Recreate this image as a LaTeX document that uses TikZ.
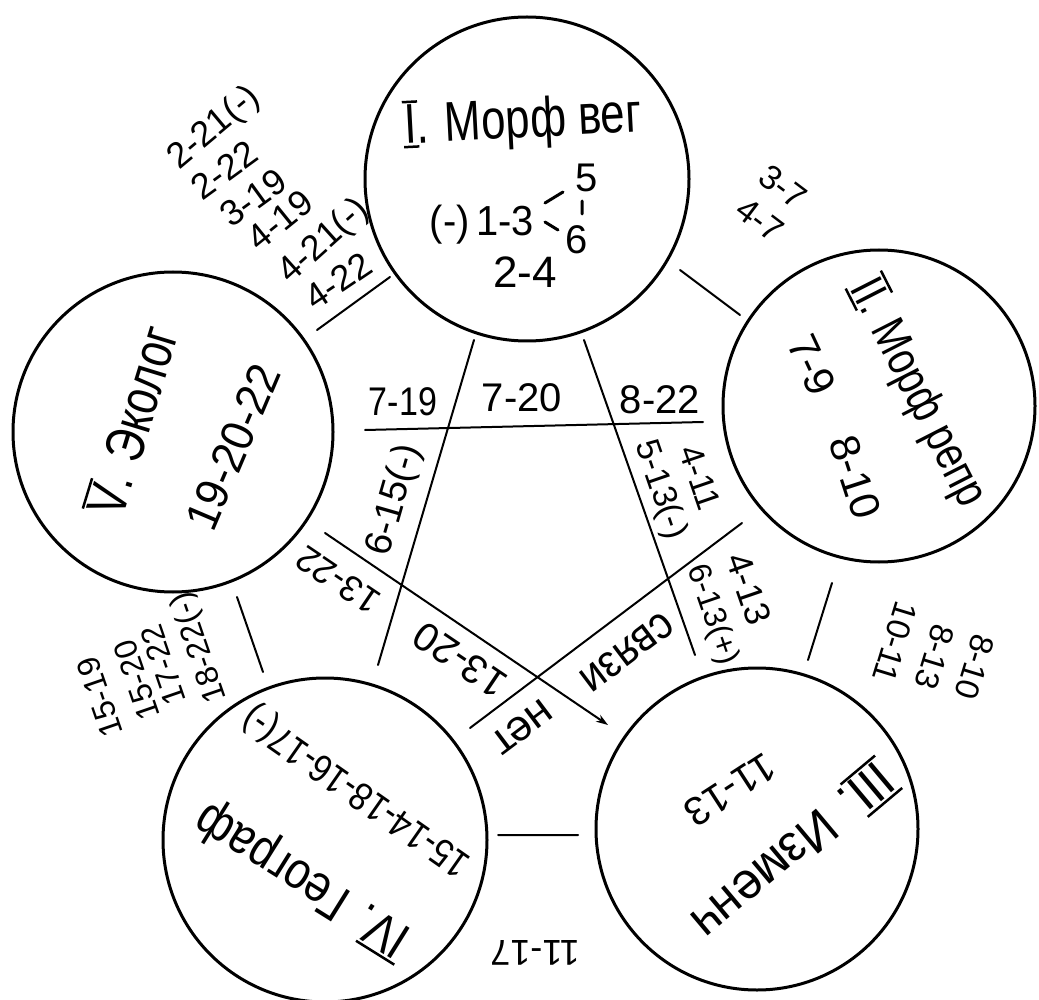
\documentclass[tikz,border=0pt]{standalone}
\usepackage{fontspec}
\setmainfont{Liberation Sans}
\usetikzlibrary{arrows.meta}
\newcommand\tx[3]{\scalebox{#2}[1]{\fontsize{#1pt}{#1pt}\selectfont #3}}
\newcommand\RomBoth[1]{\setbox0\hbox{#1}\rlap{\kern-2pt\raisebox{\dimexpr\ht0+2pt\relax}{\rule{\dimexpr\wd0+4pt\relax}{2.5pt}}}\rlap{\kern-2pt\raisebox{-4.5pt}{\rule{\dimexpr\wd0+4pt\relax}{2.5pt}}}\box0}
\newcommand\RomTop[1]{\setbox0\hbox{#1}\rlap{\kern-2pt\raisebox{\dimexpr\ht0+2pt\relax}{\rule{\dimexpr\wd0+4pt\relax}{2.5pt}}}\box0}
\begin{document}
\begin{tikzpicture}[x=1pt,y=-1pt,
  circ/.style={circle,draw,line width=3pt,inner sep=0pt},
  lbl/.style={inner sep=0pt,anchor=center},
  lblw/.style={inner sep=0pt,anchor=west},
  conn/.style={line width=2pt,line cap=round}]
\useasboundingbox[fill=white] (0,0) rectangle (1039,1000);
% circles
\node[circ,minimum size=324pt] (I) at (527,179) {};
\node[circ,minimum size=312pt] (II) at (879,406) {};
\node[circ,minimum size=322pt] (III) at (757,829) {};
\node[circ,minimum size=324pt] (IV) at (325,840) {};
\node[circ,minimum size=320pt] (V) at (173,432) {};
% circle texts
\node[lbl,rotate=3] (tI) at (523,122) {\tx{56}{0.78}{\RomBoth{I}. Морф вег}};
\node[lbl] (n13) at (482,225) {\tx{42}{0.95}{(-)\,1-3}};
\node[lbl] (n5) at (587,178) {\tx{40}{1}{5}};
\node[lbl] (n6) at (577,240) {\tx{40}{1}{6}};
\node[lbl] (n24) at (525,272) {\tx{44}{1}{2-4}};
\coordinate (a1) at (545,203); \coordinate (a2) at (563,192);
\coordinate (b1) at (545,222); \coordinate (b2) at (558,230);
\coordinate (c1) at (582,201); \coordinate (c2) at (582,214);
\draw[line width=3pt,line cap=round] (a1)--(a2) (b1)--(b2) (c1)--(c2);
\node[lbl,rotate=-63] (tII) at (918,393) {\tx{48}{0.8}{\RomBoth{II}. Морф репр}};
\node[lbl,rotate=-65] (n79) at (812,365) {\tx{42}{1}{7-9}};
\node[lbl,rotate=-72] (n810) at (855,477) {\tx{42}{1}{8-10}};
\node[lbl,rotate=220] (tIII) at (793,852) {\tx{52}{0.95}{\RomBoth{III}. Изменч}};
\node[lbl,rotate=213] (n1113) at (730,790) {\tx{40}{1}{11-13}};
\node[lbl,rotate=148] (tIV) at (303,879) {\tx{52}{0.85}{\RomTop{IV}. Географ}};
\node[lbl,rotate=145] (nIV) at (357,790) {\tx{39}{0.87}{15-14-18-16-17(-)}};
\node[lbl,rotate=73] (tV) at (131,420) {\tx{55}{0.78}{\RomTop{V}. Эколог}};
\node[lbl,rotate=67] (nV) at (233,447) {\tx{46}{0.95}{19-20-22}};
% outer connectors
\coordinate (p1) at (680,270); \coordinate (p2) at (740,315);
\coordinate (q1) at (832,583); \coordinate (q2) at (808,660);
\coordinate (r1) at (578,835); \coordinate (r2) at (498,835);
\coordinate (s1) at (263,672); \coordinate (s2) at (237,597);
\coordinate (t1) at (317,330); \coordinate (t2) at (390,277);
\draw[conn] (p1)--(p2) (q1)--(q2) (r1)--(r2) (s1)--(s2) (t1)--(t2);
% inner connectors
\coordinate (h1) at (365,430); \coordinate (h2) at (703,422);
\coordinate (l1) at (474,340); \coordinate (l2) at (378,665);
\coordinate (m1) at (584,340); \coordinate (m2) at (695,655);
\coordinate (k1) at (470,728); \coordinate (k2) at (742,523);
\coordinate (w1) at (325,533); \coordinate (w2) at (608,725);
\draw[conn] (h1)--(h2) (l1)--(l2) (m1)--(m2) (k1)--(k2);
\draw[conn,-{Stealth[length=12pt,width=8pt]}] (w1)--(w2);
% edge labels: V-I
\node[lblw,rotate=40] (e1) at (173,163) {\tx{36}{1}{2-21(-)}};
\node[lblw,rotate=36] (e2) at (195,191) {\tx{36}{1}{2-22}};
\node[lblw,rotate=36] (e3) at (224,219) {\tx{36}{1}{3-19}};
\node[lblw,rotate=39] (e4) at (252,243) {\tx{36}{1}{4-19}};
\node[lblw,rotate=42] (e5) at (284,278) {\tx{36}{1}{4-21(-)}};
\node[lblw,rotate=34] (e6) at (308,301) {\tx{36}{1}{4-22}};
% I-II
\node[lbl,rotate=-37] (f1) at (783,187) {\tx{34}{1}{3-7}};
\node[lbl,rotate=-37] (f2) at (760,220) {\tx{34}{1}{4-7}};
% II-III
\node[lbl,rotate=-107] (g1) at (975,667) {\tx{33}{1}{8-10}};
\node[lbl,rotate=-107] (g2) at (935,657) {\tx{33}{1}{8-13}};
\node[lbl,rotate=-107] (g3) at (895,642) {\tx{33}{1}{10-11}};
% III-IV
\node[lbl,rotate=180] (j1) at (535,953) {\tx{36}{1}{11-17}};
% IV-V
\node[lbl,rotate=109] (i1) at (100,697) {\tx{32}{1}{15-19}};
\node[lbl,rotate=109] (i2) at (137,680) {\tx{32}{1}{15-20}};
\node[lbl,rotate=109] (i3) at (163,665) {\tx{32}{1}{17-22}};
\node[lbl,rotate=109] (i4) at (200,647) {\tx{32}{1}{18-22(-)}};
% inner labels
\node[lbl] (u1) at (403,402) {\tx{40}{0.85}{7-19}};
\node[lbl] (u2) at (522,398) {\tx{40}{1}{7-20}};
\node[lbl] (u3) at (660,400) {\tx{40}{1}{8-22}};
\node[lbl,rotate=74] (u4) at (395,500) {\tx{38}{1}{6-15(-)}};
\node[lbl,rotate=146] (u5) at (338,580) {\tx{36}{1}{13-22}};
\node[lbl,rotate=146] (u6) at (460,660) {\tx{40}{1}{13-20}};
\node[lbl,rotate=217] (u7) at (627,652) {\tx{46}{0.9}{связи}};
\node[lbl,rotate=217] (u8) at (522,727) {\tx{44}{1}{нет}};
\node[lbl,rotate=-71] (u9) at (749,589) {\tx{36}{1}{4-13}};
\node[lbl,rotate=-71] (u10) at (712,615) {\tx{32}{1}{6-13(+)}};
\node[lbl,rotate=-71] (u11) at (700,478) {\tx{34}{1}{4-11}};
\node[lbl,rotate=-71] (u12) at (660,490) {\tx{34}{1}{5-13(-)}};
\end{tikzpicture}
\end{document}
